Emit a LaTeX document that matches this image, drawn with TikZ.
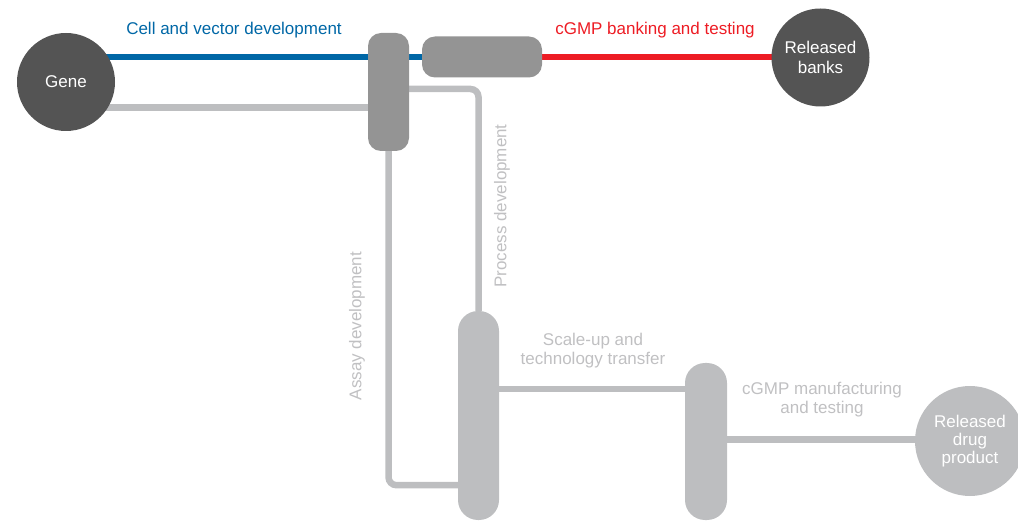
\documentclass[tikz,border=0pt]{standalone}
\usepackage{fontspec}
\setmainfont{Liberation Sans}
\usetikzlibrary{backgrounds}
\definecolor{devblue}{RGB}{0,103,166}
\definecolor{bankred}{RGB}{237,28,36}
\definecolor{darkdot}{RGB}{84,84,84}
\definecolor{midgray}{RGB}{148,148,148}
\definecolor{palegray}{RGB}{189,190,192}
\definecolor{labelgray}{RGB}{192,192,194}
\tikzset{every node/.style={font=\fontsize{17}{19}\selectfont},
 endpoint/.style={circle,fill=darkdot,text=white,minimum size=98pt,inner sep=0pt,align=center},
 stage/.style={draw=none,fill=midgray,rounded corners=13pt,inner sep=0pt},
 palestage/.style={draw=none,fill=palegray,rounded corners=20pt,inner sep=0pt},
 track/.style={line width=6.5pt,palegray},
 steplabel/.style={text=labelgray,align=center},
 }

\begin{document}
\begin{tikzpicture}[x=1pt,y=-1pt]
        \useasboundingbox (0,0) rectangle (1018,521);
        \node[endpoint] (gene) at (66,82) {Gene};
        \node[endpoint,font=\fontsize{17}{20}\selectfont] (banks) at (820.5,57.5) {Released\\banks};
        \node[endpoint,fill=palegray,minimum size=110pt,
              font=\fontsize{17}{18}\selectfont] (drug) at (970,441) {Released\\drug\\product};
        \node[stage,minimum width=41pt,minimum height=118pt] (box1) at (388.5,92) {};
        \node[stage,minimum width=120pt,minimum height=41pt] (box2) at (482,57) {};
        \node[palestage,minimum width=41pt,minimum height=209pt] (box3) at (478.5,415.5) {};
        \node[palestage,minimum width=42pt,minimum height=157pt] (box4) at (706,441.5) {};
        \node[text=devblue] (celllabel) at (234,30.5) {Cell and vector development};
        \node[text=bankred] (banklabel) at (655,30.5) {cGMP banking and testing};
        \node[steplabel,rotate=90] (processlabel) at (502,206) {Process development};
        \node[steplabel,rotate=90] (assaylabel) at (357,326) {Assay development};
        \node[steplabel] (scalelabel) at (593,351) {Scale-up and\\technology transfer};
        \node[steplabel] (manuflabel) at (822,400) {cGMP manufacturing\\and testing};
        \begin{scope}[on background layer]
        \draw [line width=6.5pt, devblue] (gene |- box2) -- (box2);
        \draw [line width=6.5pt, bankred] (box2) -- (box2 -| banks);
        \draw [track] ([yshift=-25.5pt]gene.center) -- ([yshift=-25.5pt]gene.center -| box1);
        \draw [track, rounded corners=8pt] ([yshift=3pt]box1.center) -| (box3.north);
        \draw [track, rounded corners=8pt] (box1.south) |- ([yshift=35pt]box3.south west);
        \draw [track] ([yshift=26.5pt]box3.center) -- ([yshift=26.5pt]box3.center -| box4);
        \draw [track] ([yshift=2pt]box4.center) -- ([yshift=2pt]box4.center -| drug);
        \end{scope}
    \end{tikzpicture}
\end{document}
